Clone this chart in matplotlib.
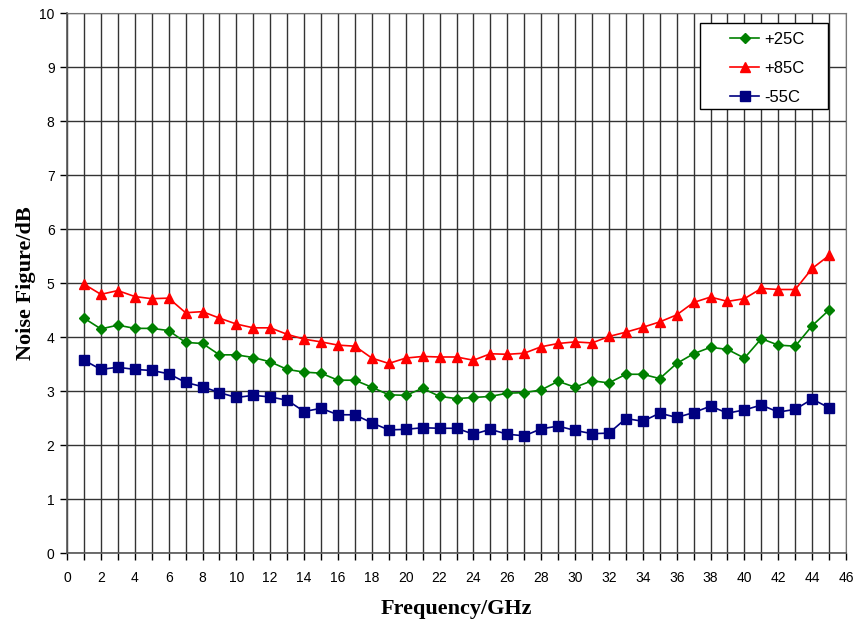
import numpy as np
import matplotlib.pyplot as plt
from matplotlib.ticker import MultipleLocator
from matplotlib.patches import Rectangle

# Frequencia [GHz]
freq = np.arange(1, 46)

# Figura de ruido [dB] para cada temperatura
nf_25 = [4.35, 4.15, 4.22, 4.16, 4.16, 4.12, 3.90, 3.88, 3.67, 3.67,
         3.62, 3.54, 3.40, 3.35, 3.33, 3.20, 3.20, 3.07, 2.93, 2.92,
         3.05, 2.90, 2.86, 2.88, 2.90, 2.96, 2.97, 3.02, 3.18, 3.07,
         3.19, 3.15, 3.31, 3.31, 3.23, 3.51, 3.69, 3.81, 3.77, 3.61,
         3.97, 3.85, 3.83, 4.21, 4.50]
nf_85 = [4.98, 4.79, 4.86, 4.75, 4.71, 4.72, 4.45, 4.47, 4.35, 4.24,
         4.17, 4.17, 4.05, 3.96, 3.91, 3.85, 3.83, 3.61, 3.51, 3.61,
         3.64, 3.63, 3.63, 3.57, 3.69, 3.68, 3.70, 3.82, 3.88, 3.91,
         3.89, 4.01, 4.09, 4.18, 4.28, 4.41, 4.64, 4.74, 4.66, 4.71,
         4.90, 4.88, 4.88, 5.27, 5.51]
nf_m55 = [3.57, 3.40, 3.44, 3.40, 3.38, 3.32, 3.16, 3.08, 2.97, 2.88,
          2.92, 2.89, 2.83, 2.62, 2.68, 2.56, 2.56, 2.41, 2.28, 2.29,
          2.32, 2.31, 2.31, 2.20, 2.29, 2.20, 2.17, 2.30, 2.35, 2.27,
          2.21, 2.22, 2.49, 2.44, 2.59, 2.51, 2.60, 2.72, 2.59, 2.65,
          2.74, 2.61, 2.66, 2.85, 2.69]

fig = plt.figure(figsize=(8.55, 6.21), dpi=100)
ax = fig.add_axes([0.0784, 0.1095, 0.9111, 0.8695])

ax.plot(freq, nf_25, color='#008000', marker='D', markersize=5, linewidth=1.2, label='+25C')
ax.plot(freq, nf_85, color='#ff0000', marker='^', markersize=7, linewidth=1.2, label='+85C')
ax.plot(freq, nf_m55, color='#000080', marker='s', markersize=6.5, linewidth=1.2, label='-55C')

ax.set_xlim(0, 46)
ax.set_ylim(0, 10)
ax.xaxis.set_major_locator(MultipleLocator(2))
ax.xaxis.set_minor_locator(MultipleLocator(1))
ax.yaxis.set_major_locator(MultipleLocator(1))
ax.grid(True, which='both', axis='x', color='#333333', linewidth=1)
ax.grid(True, which='major', axis='y', color='#333333', linewidth=1)
ax.set_axisbelow(True)

for lbl in ax.get_xticklabels() + ax.get_yticklabels():
    lbl.set_family('Liberation Sans')
    lbl.set_fontsize(10)
ax.tick_params(which='both', direction='out', length=5, width=1)
ax.tick_params(axis='x', pad=8)
ax.tick_params(axis='y', pad=4)
for s in ['top', 'right']:
    ax.spines[s].set_color('#777777')
for s in ['left', 'bottom']:
    ax.spines[s].set_color('#555555')
    ax.spines[s].set_linewidth(1.2)

ax.set_xlabel('Frequency/GHz', family='Liberation Serif', fontsize=16, fontweight='bold', labelpad=10)
ax.set_ylabel('Noise Figure/dB', family='Liberation Serif', fontsize=16, fontweight='bold', labelpad=2)

# caixa da legenda desenhada a parte
ax.add_patch(Rectangle((0.8126, 0.8222), 0.1643, 0.1593, transform=ax.transAxes,
                       facecolor='white', edgecolor='black', linewidth=1, zorder=5))
leg = ax.legend(loc='upper left', bbox_to_anchor=(0.851, 0.965), frameon=False,
                prop={'family': 'Liberation Sans', 'size': 12}, borderpad=0, borderaxespad=0,
                handlelength=1.75, labelspacing=0.83, handletextpad=0.3)
leg.set_zorder(6)

plt.savefig('out.png', dpi=100)
